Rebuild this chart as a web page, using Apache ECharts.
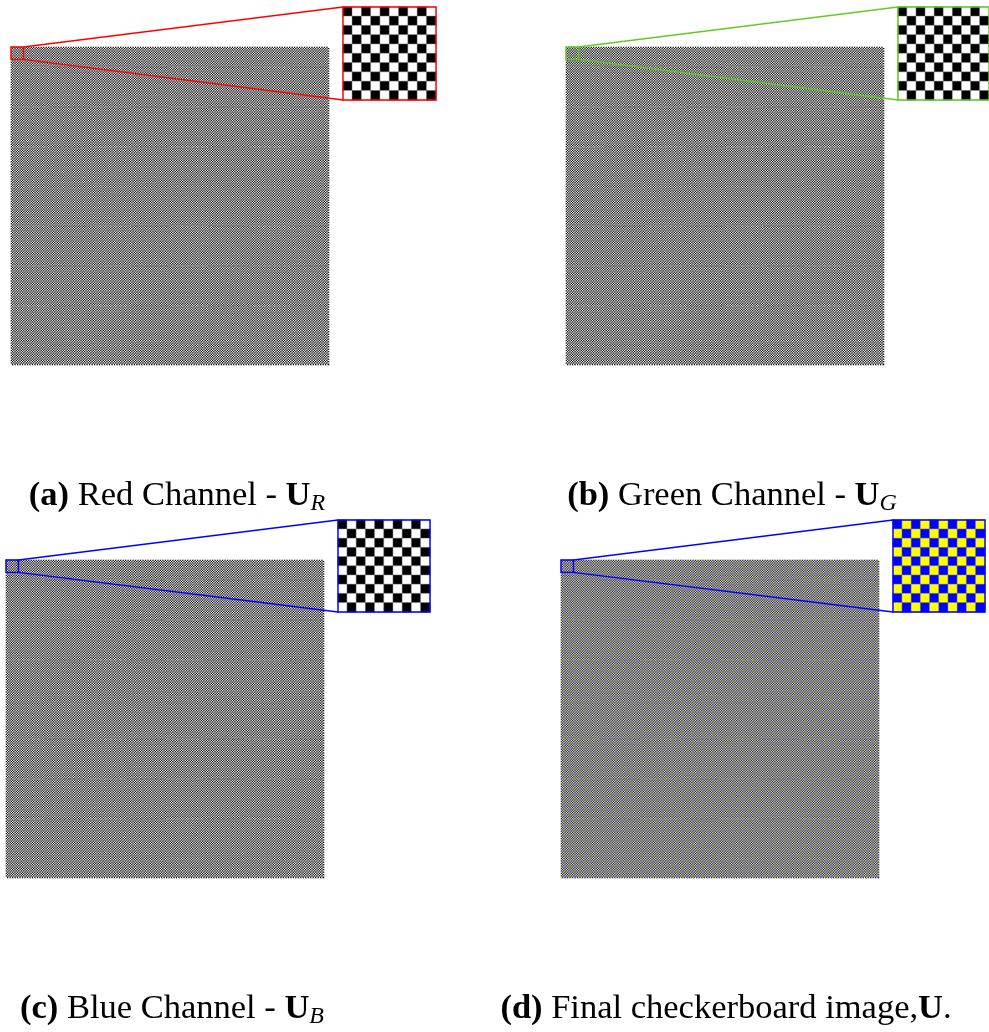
<!DOCTYPE html>
<html>
<head>
<meta charset="utf-8">
<script src="https://cdn.jsdelivr.net/npm/echarts@6/dist/echarts.min.js"></script>
<style>
  html, body { margin: 0; padding: 0; background: #ffffff; }
  #chart { width: 989px; height: 1032px; }
</style>
</head>
<body>
<div id="chart"></div>
<script>
// Board definition: a square board built from a repeating 2x2 tile
const boardSize = 256;
const tile = [[0, 1], [1, 0]];
// Each inset magnifies this many cells from the board's top-left corner
const zoomCells = 10;

// Panel captions, split into rich-text parts
const captionTags = ['(a)', '(b)', '(c)', '(d)'];
const captionTexts = [' Red Channel - ', ' Green Channel - ', ' Blue Channel - ', ' Final checkerboard image,'];
const captionSymbols = ['U', 'U', 'U', 'U'];
const captionSubs = ['R', 'G', 'B', ''];
const captionTails = ['', '', '', '.'];

// Cell colours per panel (value 0, value 1) and the inset accent colour
const cellColors = [
  ['#000000', '#ffffff'],
  ['#000000', '#ffffff'],
  ['#000000', '#ffffff'],
  ['#0000ff', '#ffff00']
];
const accentColors = ['#ff0000', '#5fcc22', '#0000ff', '#0000ff'];

// Layout (pixels): main image and inset boxes, caption centre line
const mainBoxes = [
  { left: 11, top: 47, size: 318 },
  { left: 566, top: 47, size: 318 },
  { left: 6, top: 560, size: 318 },
  { left: 561, top: 560, size: 318 }
];
const insetBoxes = [
  { left: 343, top: 7, size: 93 },
  { left: 898, top: 7, size: 93 },
  { left: 338, top: 520, size: 92 },
  { left: 893, top: 520, size: 92 }
];
const captionAnchors = [
  { x: 177, y: 496 },
  { x: 732, y: 496 },
  { x: 172, y: 1009 },
  { x: 726, y: 1009 }
];

function boardCells(n) {
  const out = [];
  for (let r = 0; r < n; r++) {
    for (let c = 0; c < n; c++) {
      out.push([c, r, tile[r % 2][c % 2]]);
    }
  }
  return out;
}
function indexList(n) {
  return Array.from({ length: n }, (_, i) => String(i));
}

const fullCells = boardCells(boardSize);
const zoomedCells = boardCells(zoomCells);

const chart = echarts.init(document.getElementById('chart'), null, { renderer: 'canvas' });

const grids = [], xAxes = [], yAxes = [], series = [];
const grayIdx = [], colorIdx = [];

for (let p = 0; p < 4; p++) {
  [[mainBoxes[p], boardSize, fullCells], [insetBoxes[p], zoomCells, zoomedCells]].forEach(([box, n, cells], k) => {
    const g = grids.length;
    grids.push({ left: box.left, top: box.top, width: box.size, height: box.size, containLabel: false });
    xAxes.push({ type: 'category', gridIndex: g, data: indexList(n), show: false, boundaryGap: true });
    yAxes.push({ type: 'category', gridIndex: g, data: indexList(n), show: false, inverse: true, boundaryGap: true });
    series.push({
      type: 'heatmap',
      xAxisIndex: g,
      yAxisIndex: g,
      data: cells,
      progressive: 0,
      silent: true,
      animation: false,
      emphasis: { disabled: true },
      itemStyle: k === 1 ? { borderColor: 'rgba(128,128,128,0.6)', borderWidth: 0.8 } : { borderWidth: 0 }
    });
    (p === 3 ? colorIdx : grayIdx).push(series.length - 1);
  });
}

chart.setOption({
  animation: false,
  backgroundColor: '#ffffff',
  grid: grids,
  xAxis: xAxes,
  yAxis: yAxes,
  visualMap: [
    {
      type: 'piecewise', show: false, seriesIndex: grayIdx, dimension: 2,
      pieces: [{ value: 0, color: cellColors[0][0] }, { value: 1, color: cellColors[0][1] }]
    },
    {
      type: 'piecewise', show: false, seriesIndex: colorIdx, dimension: 2,
      pieces: [{ value: 0, color: cellColors[3][0] }, { value: 1, color: cellColors[3][1] }]
    }
  ],
  series: series
});

// Zoom marker, inset frame, connector lines and captions
const graphics = [];
for (let p = 0; p < 4; p++) {
  const mg = p * 2, ig = p * 2 + 1;
  const m0 = chart.convertToPixel({ gridIndex: mg }, ['0', '0']);
  const m1 = chart.convertToPixel({ gridIndex: mg }, ['1', '1']);
  const mLast = chart.convertToPixel({ gridIndex: mg }, [String(zoomCells - 1), String(zoomCells - 1)]);
  const mbw = m1[0] - m0[0], mbh = m1[1] - m0[1];
  const mx0 = m0[0] - mbw / 2, my0 = m0[1] - mbh / 2;
  const mx1 = mLast[0] + mbw / 2, my1 = mLast[1] + mbh / 2;

  const i0 = chart.convertToPixel({ gridIndex: ig }, ['0', '0']);
  const i1 = chart.convertToPixel({ gridIndex: ig }, ['1', '1']);
  const iLast = chart.convertToPixel({ gridIndex: ig }, [String(zoomCells - 1), String(zoomCells - 1)]);
  const ibw = i1[0] - i0[0], ibh = i1[1] - i0[1];
  const ix0 = i0[0] - ibw / 2, iy0 = i0[1] - ibh / 2;
  const ix1 = iLast[0] + ibw / 2, iy1 = iLast[1] + ibh / 2;

  const lw = 1.4;
  const stroke = { stroke: accentColors[p], lineWidth: lw, fill: null };
  graphics.push({ type: 'rect', silent: true, z: 100, shape: { x: mx0, y: my0, width: mx1 - mx0, height: my1 - my0 }, style: stroke });
  graphics.push({ type: 'rect', silent: true, z: 100, shape: { x: ix0, y: iy0, width: ix1 - ix0, height: iy1 - iy0 }, style: stroke });
  graphics.push({ type: 'line', silent: true, z: 100, shape: { x1: mx1, y1: my0, x2: ix0, y2: iy0 }, style: { stroke: accentColors[p], lineWidth: lw } });
  graphics.push({ type: 'line', silent: true, z: 100, shape: { x1: mx1, y1: my1, x2: ix0, y2: iy1 }, style: { stroke: accentColors[p], lineWidth: lw } });

  let text = '{tag|' + captionTags[p] + '}{txt|' + captionTexts[p] + '}{sym|' + captionSymbols[p] + '}';
  if (captionSubs[p]) text += '{sub|' + captionSubs[p] + '}';
  if (captionTails[p]) text += '{txt|' + captionTails[p] + '}';
  const fam = '"Liberation Serif", "DejaVu Serif", serif';
  const fs = 34.5;
  graphics.push({
    type: 'text', silent: true, z: 100,
    x: captionAnchors[p].x, y: captionAnchors[p].y,
    style: {
      text: text,
      verticalAlign: 'middle',
      align: 'center',
      fill: '#000000',
      rich: {
        tag: { fontFamily: fam, fontSize: fs, fontWeight: 'bold', lineHeight: 42 },
        txt: { fontFamily: fam, fontSize: fs, lineHeight: 42 },
        sym: { fontFamily: fam, fontSize: fs, fontWeight: 'bold', lineHeight: 42 },
        sub: { fontFamily: fam, fontSize: 24, fontStyle: 'italic', lineHeight: 42, padding: [15, 0, 0, 0] }
      }
    }
  });
}
chart.setOption({ graphic: graphics });
</script>
</body>
</html>
